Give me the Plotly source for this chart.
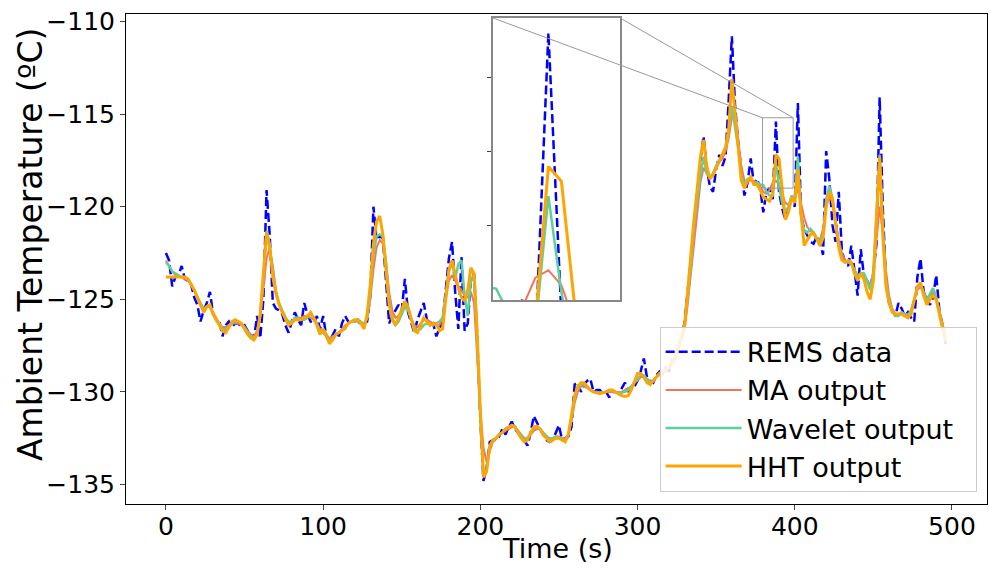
import plotly.graph_objects as go

# time grid (s), 2-second sampling
time_s = list(range(0, 497, 2))

rems = [
    -122.5, -122.9, -124.3, -123.8, -123.7, -123.2, -123.9, -124.0, -124.2, -124.9,
    -125.3, -126.2, -125.6, -125.2, -124.6, -125.8, -126.1, -126.2, -127.0, -126.4,
    -126.2, -126.5, -126.3, -126.3, -126.5, -126.4, -126.7, -126.9, -127.1, -125.9,
    -127.1, -125.0, -119.1, -121.5, -125.2, -125.5, -125.6, -125.8, -126.4, -126.8,
    -126.2, -125.7, -126.1, -126.4, -125.2, -125.8, -126.2, -126.3, -125.9, -126.6,
    -125.9, -127.0, -127.3, -126.9, -126.6, -127.0, -126.3, -125.9, -126.2, -126.3,
    -126.2, -126.1, -126.4, -126.3, -126.2, -124.8, -120.0, -121.8, -121.6, -121.7,
    -123.8, -126.3, -125.9, -125.6, -125.3, -125.6, -123.9, -125.7, -126.3, -126.8,
    -126.1, -125.6, -125.2, -126.1, -126.4, -126.3, -127.0, -126.6, -126.2, -124.5,
    -122.8, -121.9, -124.6, -126.6, -122.7, -126.7, -126.3, -124.0, -123.6, -127.0,
    -131.5, -134.8, -134.1, -132.7, -132.6, -132.6, -132.4, -132.0, -132.3, -131.9,
    -131.6, -132.0, -132.2, -132.5, -132.6, -132.9, -132.2, -131.3, -131.7, -132.0,
    -132.3, -132.6, -132.7, -132.6, -132.2, -131.8, -132.6, -132.5, -132.4, -131.9,
    -129.6, -129.5, -130.0, -129.6, -129.4, -129.3, -130.0, -129.9, -129.9, -130.1,
    -130.0, -130.3, -130.0, -130.0, -130.1, -129.8, -129.5, -130.0, -129.8, -129.7,
    -129.4, -128.9, -128.2, -129.2, -129.4, -129.5, -129.1, -128.9, -129.0, -128.7,
    -128.9, -128.3, -128.2, -127.6, -127.1, -126.2, -124.4, -122.6, -120.9, -119.3,
    -117.5, -116.2, -117.9, -118.9, -119.2, -118.0, -117.2, -117.8, -117.3, -114.2,
    -110.8, -114.5, -116.5, -118.0, -119.4, -118.7, -117.4, -118.8, -118.5, -119.0,
    -120.3, -119.2, -119.0, -119.6, -115.4, -119.2, -120.1, -120.7, -120.0, -119.6,
    -120.0, -114.4, -120.5, -121.2, -121.6, -121.9, -122.0, -121.6, -121.9, -122.6,
    -117.0, -118.5, -121.0, -121.9, -119.2, -122.4, -123.0, -123.2, -122.1, -123.6,
    -124.8, -122.3, -123.7, -124.0, -124.3, -123.6, -122.0, -114.1, -120.0, -124.0,
    -125.2, -125.6, -125.9, -125.2, -125.5, -125.9, -125.7, -126.0, -126.2, -123.8,
    -122.8, -124.6, -125.0, -125.3, -124.9, -123.7, -125.6, -126.4, -127.4,
]

ma_out = [
    -122.9, -123.2, -123.5, -123.7, -123.8, -123.8, -123.9, -124.0, -124.2, -124.5,
    -124.9, -125.3, -125.5, -125.4, -125.4, -125.7, -126.0, -126.3, -126.5, -126.5,
    -126.4, -126.3, -126.3, -126.3, -126.4, -126.5, -126.7, -126.9, -127.0, -126.7,
    -126.0, -124.5, -122.8, -122.2, -123.2, -124.5, -125.3, -125.7, -126.0, -126.2,
    -126.2, -126.0, -126.0, -126.0, -125.9, -125.9, -126.0, -126.1, -126.3, -126.6,
    -126.7, -126.9, -127.1, -127.0, -126.9, -126.8, -126.6, -126.4, -126.3, -126.2,
    -126.2, -126.2, -126.3, -126.3, -126.0, -125.0, -123.4, -122.2, -121.8, -122.0,
    -123.0, -124.6, -125.6, -126.0, -125.9, -125.6, -125.4, -125.6, -126.0, -126.4,
    -126.5, -126.3, -126.1, -126.1, -126.2, -126.3, -126.4, -126.4, -126.0, -125.0,
    -124.0, -123.7, -124.0, -124.3, -124.5, -124.8, -124.9, -124.6, -125.2, -128.0,
    -131.0, -133.0, -133.8, -133.2, -132.7, -132.5, -132.3, -132.2, -132.1, -132.0,
    -131.9, -131.9, -132.1, -132.3, -132.5, -132.5, -132.3, -132.1, -132.0, -132.0,
    -132.2, -132.4, -132.5, -132.5, -132.4, -132.4, -132.5, -132.5, -132.3, -131.6,
    -130.6, -130.0, -129.7, -129.7, -129.8, -129.9, -130.0, -130.0, -130.0, -130.0,
    -130.0, -130.0, -130.0, -130.0, -130.0, -130.0, -129.9, -129.8, -129.7, -129.5,
    -129.4, -129.2, -129.2, -129.3, -129.4, -129.4, -129.2, -129.1, -129.0, -128.9,
    -128.7, -128.5, -128.2, -127.7, -127.2, -126.6, -125.2, -123.6, -121.8, -120.2,
    -118.7, -117.9, -118.2, -118.5, -118.3, -117.9, -117.6, -117.4, -117.0, -116.3,
    -115.2, -114.9, -116.2, -117.8, -118.6, -118.6, -118.6, -118.6, -118.7, -118.9,
    -119.2, -119.3, -119.1, -118.7, -118.6, -118.8, -119.3, -119.8, -119.9, -119.7,
    -119.6, -119.0, -119.8, -120.6, -121.1, -121.3, -121.5, -121.7, -121.8, -121.2,
    -120.0, -119.4, -119.8, -120.8, -121.8, -122.5, -122.9, -123.0, -123.1, -123.4,
    -123.7, -123.6, -123.7, -124.0, -124.2, -123.6, -121.8, -120.0, -121.4, -123.4,
    -124.8, -125.5, -125.8, -125.8, -125.7, -125.8, -125.8, -125.6, -125.0, -124.5,
    -124.3, -124.6, -124.9, -124.8, -124.6, -124.9, -125.6, -126.3, -127.0,
]

wavelet_out = [
    -123.0, -123.2, -123.5, -123.6, -123.7, -123.8, -123.8, -123.9, -124.2, -124.5,
    -124.9, -125.2, -125.5, -125.4, -125.4, -125.8, -126.1, -126.3, -126.6, -126.6,
    -126.5, -126.3, -126.2, -126.2, -126.3, -126.5, -126.8, -127.0, -127.1, -126.9,
    -125.8, -123.8, -121.3, -122.0, -123.6, -124.6, -125.2, -125.6, -126.0, -126.3,
    -126.2, -126.0, -126.0, -126.1, -126.1, -126.0, -125.8, -126.0, -126.3, -126.8,
    -126.8, -127.0, -127.3, -127.1, -126.9, -126.8, -126.7, -126.6, -126.3, -126.2,
    -126.2, -126.1, -126.2, -126.4, -126.0, -124.6, -122.6, -121.6, -121.5, -121.6,
    -123.0, -125.0, -126.0, -126.4, -126.2, -125.8, -125.4, -125.6, -126.1, -126.5,
    -126.7, -126.6, -126.4, -126.3, -126.3, -126.4, -126.3, -126.2, -126.0, -124.8,
    -123.5, -123.0, -123.9, -123.1, -122.9, -124.8, -125.9, -124.0, -123.6, -127.5,
    -131.5, -134.3, -134.2, -133.0, -132.6, -132.5, -132.3, -132.2, -132.0, -131.9,
    -131.8, -131.85, -132.1, -132.4, -132.6, -132.5, -132.2, -131.95, -131.9, -132.0,
    -132.2, -132.4, -132.55, -132.5, -132.4, -132.45, -132.55, -132.6, -132.3, -131.4,
    -130.3, -129.8, -129.6, -129.6, -129.75, -129.9, -130.0, -130.0, -130.05, -130.05,
    -130.0, -129.95, -129.95, -130.0, -130.05, -130.05, -130.0, -129.9, -129.7, -129.5,
    -129.3, -129.1, -129.1, -129.3, -129.5, -129.4, -129.2, -129.0, -128.9, -128.8,
    -128.6, -128.4, -128.0, -127.6, -127.0, -126.3, -124.8, -123.2, -121.0, -119.5,
    -118.3, -117.3, -118.2, -118.4, -118.2, -117.8, -117.5, -117.2, -116.8, -116.0,
    -114.6, -115.6, -116.8, -118.3, -118.8, -118.5, -118.5, -118.7, -118.7, -118.8,
    -118.85, -119.2, -119.4, -119.4, -117.6, -118.9, -119.8, -120.3, -120.0, -119.4,
    -119.6, -117.3, -120.5, -121.3, -121.4, -121.2, -121.4, -121.7, -121.9, -121.5,
    -119.6, -118.9, -119.5, -120.8, -122.0, -122.8, -123.0, -123.0, -123.1, -123.4,
    -123.8, -123.6, -123.6, -124.0, -124.5, -123.5, -120.5, -117.2, -121.0, -124.0,
    -125.0, -125.6, -125.9, -125.9, -125.7, -125.8, -125.9, -125.6, -125.0, -124.4,
    -124.2, -124.7, -125.1, -124.7, -124.4, -124.9, -125.8, -126.5, -127.2,
]

hht_out = [
    -123.8, -123.8, -123.8, -123.8, -123.8, -123.8, -123.8, -123.9, -124.2, -124.5,
    -124.9, -125.3, -125.7, -125.4, -125.3, -125.8, -126.1, -126.4, -126.7, -126.8,
    -126.5, -126.2, -126.1, -126.2, -126.3, -126.6, -126.9, -127.1, -127.2, -126.9,
    -125.8, -123.6, -121.4, -122.2, -123.8, -124.7, -125.3, -125.7, -126.1, -126.4,
    -126.3, -126.1, -126.1, -126.1, -126.0, -125.9, -125.7, -126.0, -126.4, -126.9,
    -126.6, -126.9, -127.4, -127.2, -126.9, -126.8, -126.7, -126.5, -126.3, -126.2,
    -126.1, -126.1, -126.3, -126.6, -125.8, -124.2, -122.0, -120.8, -120.5, -121.5,
    -123.5, -125.3, -126.1, -126.4, -126.0, -125.5, -125.1, -125.4, -126.1, -126.7,
    -126.8, -126.4, -126.0, -126.2, -126.4, -126.3, -126.3, -126.7, -126.6, -125.0,
    -123.4, -122.9, -123.6, -124.4, -124.9, -125.1, -124.5, -123.3, -123.6, -126.8,
    -131.0, -134.6, -134.3, -132.9, -132.6, -132.5, -132.3, -132.2, -132.0, -131.9,
    -131.8, -131.9, -132.2, -132.5, -132.7, -132.6, -132.2, -131.9, -131.85, -132.0,
    -132.3, -132.5, -132.7, -132.6, -132.5, -132.5, -132.6, -132.7, -132.3, -131.3,
    -130.2, -129.7, -129.5, -129.5, -129.7, -129.9, -130.0, -130.05, -130.1, -130.05,
    -130.0, -129.9, -129.9, -130.0, -130.1, -130.2, -130.25, -130.2, -129.9, -129.5,
    -129.0, -129.0, -129.2, -129.5, -129.6, -129.4, -129.2, -129.0, -128.9, -128.8,
    -128.6, -128.4, -128.0, -127.6, -127.0, -126.4, -124.5, -122.5, -120.6, -119.0,
    -117.3, -116.4, -117.8, -118.5, -118.3, -117.9, -117.5, -117.2, -116.8, -115.8,
    -113.1, -114.9, -116.8, -118.6, -119.0, -118.6, -118.4, -118.8, -118.8, -119.1,
    -119.5, -119.6, -119.7, -119.3, -117.2, -117.4, -119.1, -120.7, -120.3, -119.5,
    -119.8, -118.0, -120.4, -122.1, -121.8, -121.5, -121.4, -121.8, -122.1, -121.7,
    -120.0, -119.2, -119.6, -120.9, -122.2, -122.9, -123.0, -122.9, -123.0, -123.6,
    -124.0, -123.6, -123.9, -124.6, -125.0, -124.0, -121.0, -117.3, -121.5, -124.3,
    -125.2, -125.7, -125.8, -125.8, -125.8, -125.9, -126.0, -125.8, -125.1, -124.3,
    -124.1, -124.8, -125.3, -125.0, -124.8, -125.0, -125.8, -126.5, -127.3,
]

x_ticks = [0, 100, 200, 300, 400, 500]
y_ticks = [-135, -130, -125, -120, -115, -110]

# axis configuration
x_range = [-25.4, 522.3]
y_range = [-136.05, -109.6]
inset_x = [379.5, 399.0]
inset_y = [-119.0, -115.2]
inset_dom_x = [0.4263, 0.5738]
inset_dom_y = [0.4163, 0.9918]

pad = "\u00a0\u00a0"
series = [
    ("REMS data", rems, dict(color="#0000ff", width=2.5, dash="9px,4px")),
    ("MA output", ma_out, dict(color="#f2735f", width=2)),
    ("Wavelet output", wavelet_out, dict(color="#5fcf9c", width=2.5)),
    ("HHT output", hht_out, dict(color="#ffa500", width=3)),
]

fig = go.Figure()
for name, vals, ln in series:
    fig.add_trace(go.Scatter(x=time_s, y=vals, mode="lines", name=name + pad, line=ln))
for name, vals, ln in series:
    fig.add_trace(go.Scatter(x=time_s, y=vals, mode="lines", name=name, line=ln,
                             xaxis="x2", yaxis="y2", showlegend=False, hoverinfo="skip"))

axis_font = dict(family="DejaVu Sans", size=25, color="black")
xtitle_font = dict(family="DejaVu Sans", size=27, color="black")
ytitle_font = dict(family="DejaVu Sans", size=33, color="black")

def px(v):
    return (v - x_range[0]) / (x_range[1] - x_range[0])

def py(v):
    return (v - y_range[0]) / (y_range[1] - y_range[0])

shapes = [
    dict(type="rect", xref="x", yref="y", x0=inset_x[0], x1=inset_x[1],
         y0=inset_y[0], y1=inset_y[1], line=dict(color="#999999", width=1)),
    dict(type="line", xref="paper", yref="paper", x0=inset_dom_x[0], y0=inset_dom_y[1],
         x1=px(inset_x[0]), y1=py(inset_y[1]), line=dict(color="#999999", width=1)),
    dict(type="line", xref="paper", yref="paper", x0=inset_dom_x[1], y0=inset_dom_y[1],
         x1=px(inset_x[1]), y1=py(inset_y[1]), line=dict(color="#999999", width=1)),
]

annotations = [
    dict(text="Ambient Temperature (ºC)", xref="paper", yref="paper",
         x=-0.1115, y=0.5306, xanchor="center", yanchor="middle", textangle=-90,
         showarrow=False, font=ytitle_font),
    dict(text="Time (s)", xref="paper", yref="paper",
         x=0.5006, y=-0.0918, xanchor="center", yanchor="middle",
         showarrow=False, font=xtitle_font),
]

fig.update_layout(
    width=989, height=570,
    margin=dict(l=126, r=2, t=14, b=66),
    plot_bgcolor="white", paper_bgcolor="white",
    font=dict(family="DejaVu Sans", size=24, color="black"),
    showlegend=True,
    shapes=shapes,
    annotations=annotations,
    legend=dict(x=0.988, y=0.025, xanchor="right", yanchor="bottom",
                bgcolor="rgba(255,255,255,0.85)", bordercolor="#cccccc", borderwidth=1,
                font=dict(family="DejaVu Sans", size=27, color="black"),
                itemwidth=76, tracegroupgap=0),
    xaxis=dict(range=x_range, tickvals=x_ticks, ticks="outside", ticklen=5,
               showline=True, mirror=True, linecolor="black", linewidth=1,
               showgrid=False, zeroline=False, tickfont=axis_font,
               ticklabelstandoff=-5),
    yaxis=dict(range=y_range, tickvals=y_ticks, ticks="outside", ticklen=5,
               showline=True, mirror=True, linecolor="black", linewidth=1,
               showgrid=False, zeroline=False, tickfont=axis_font),
    xaxis2=dict(domain=inset_dom_x, anchor="y2", range=inset_x, showticklabels=False,
                ticks="", showline=True, mirror=True, linecolor="#888888", linewidth=1.5,
                showgrid=False, zeroline=False),
    yaxis2=dict(domain=inset_dom_y, anchor="x2", range=inset_y, showticklabels=False,
                tickvals=[-118, -117, -116], ticks="outside", ticklen=4, tickcolor="#444",
                showline=True, mirror=True, linecolor="#888888", linewidth=1.5,
                showgrid=False, zeroline=False),
)

fig.write_html("out.html")
